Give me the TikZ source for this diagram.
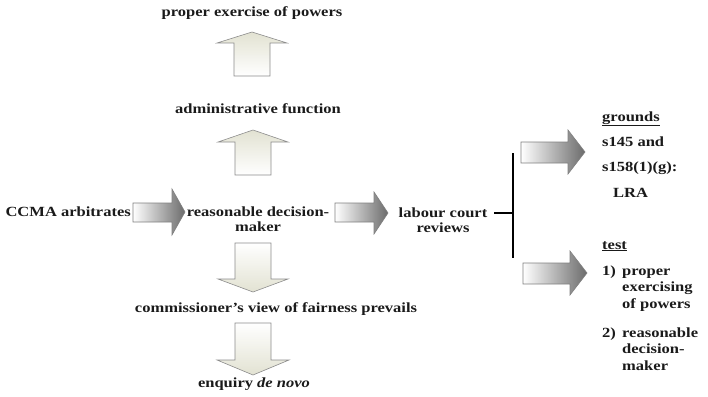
\documentclass[tikz,border=0pt]{standalone}
\usepackage{fontspec}
\setmainfont{Liberation Serif}[FakeStretch=1.18]
\definecolor{headbeige}{HTML}{E2E2D2}
\definecolor{txtcol}{HTML}{1A1A1A}
\tikzset{
  txt/.style={font=\bfseries\fontsize{14}{16}\selectfont, inner sep=0pt, text=txtcol},
  uparrow/.style={draw=black!45, line width=0.6pt, top color=headbeige, bottom color=white},
  downarrow/.style={draw=black!45, line width=0.6pt, top color=white, bottom color=headbeige},
  rarrow/.style={draw=black!50, line width=0.6pt, left color=white, right color=black!58},
  bracketline/.style={line width=2.6pt, black},
}
\begin{document}
\begin{tikzpicture}[x=1pt,y=-1pt]
\useasboundingbox (0,0) rectangle (708,396);

% texts
\node[txt, anchor=base] (pep) at (252,17) {proper exercise of powers};
\node[txt, anchor=base] (adm) at (258,113) {administrative function};
\node[txt, anchor=base east] (ccma) at (131,216) {CCMA arbitrates};
\node[txt, anchor=base] (rdm) at (258,216) {\begin{tabular}[t]{@{}c@{}}reasonable decision-\\[-1pt]maker\end{tabular}};
\node[txt, anchor=base] (lcr) at (443,217) {\begin{tabular}[t]{@{}c@{}}labour court\\[-1pt]reviews\end{tabular}};
\node[txt, anchor=base] (cvf) at (276,312) {commissioner’s view of fairness prevails};
\node[txt, anchor=base] (edn) at (254,387) {enquiry \textit{de novo}};

\node[txt, anchor=base west] (grounds) at (602,121) {\underline{grounds}};
\node[txt, anchor=base west] (s145) at (602,146) {s145 and};
\node[txt, anchor=base west] (s158) at (602,171) {s158(1)(g):};
\node[txt, anchor=base west] (lra) at (613,197) {LRA};
\node[txt, anchor=base west] (test) at (602,249) {\underline{test}};
\node[txt, anchor=base west] (n1) at (602,275) {1)};
\node[txt, anchor=base west] (t1) at (622,275) {\begin{tabular}[t]{@{}l@{}}proper\\[0.5pt]exercising\\[0.5pt]of powers\end{tabular}};
\node[txt, anchor=base west] (n2) at (602,337) {2)};
\node[txt, anchor=base west] (t2) at (622,337) {\begin{tabular}[t]{@{}l@{}}reasonable\\[0.5pt]decision-\\[0.5pt]maker\end{tabular}};

% up arrows
\draw[uparrow] (234,76) -- (234,43) -- (217,43) -- (252,32) -- (287,43) -- (270,43) -- (270,76) -- cycle;
\draw[uparrow] (235,175) -- (235,142) -- (218,142) -- (253,130) -- (288,142) -- (271,142) -- (271,175) -- cycle;
% down arrows
\draw[downarrow] (235,243) -- (235,279) -- (218,279) -- (253,292) -- (288,279) -- (271,279) -- (271,243) -- cycle;
\draw[downarrow] (235,323) -- (235,360) -- (217,360) -- (253,375) -- (289,360) -- (271,360) -- (271,323) -- cycle;
% right arrows
\draw[rarrow] (133,203) -- (172,203) -- (172,189) -- (185,212) -- (172,235) -- (172,222) -- (133,222) -- cycle;
\draw[rarrow] (335,203) -- (374,203) -- (374,192) -- (388,213) -- (374,234) -- (374,222) -- (335,222) -- cycle;
\draw[rarrow] (521,142) -- (568,142) -- (568,130) -- (585,152) -- (568,174) -- (568,163) -- (521,163) -- cycle;
\draw[rarrow] (523,263) -- (570,263) -- (570,251) -- (587,273) -- (570,295) -- (570,284) -- (523,284) -- cycle;

% bracket
\coordinate (bj) at (513,213);
\coordinate (btop) at (513,153);
\coordinate (bbot) at (513,258);
\coordinate (bin) at (494,213);
\draw[bracketline] (bin) -- (bj);
\draw[bracketline] (btop) -- (bbot);
\end{tikzpicture}
\end{document}
